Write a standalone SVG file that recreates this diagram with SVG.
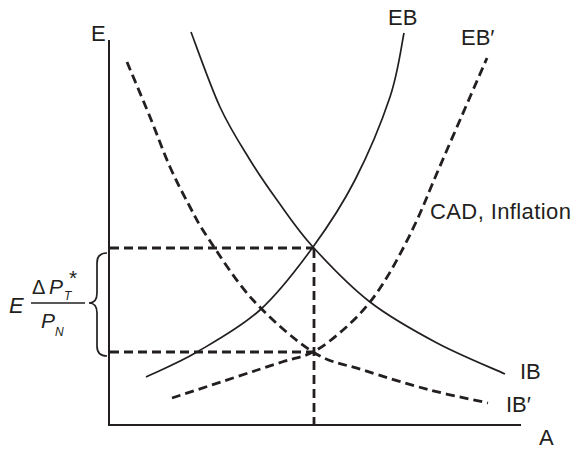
<svg xmlns="http://www.w3.org/2000/svg" width="574" height="451" viewBox="0 0 574 451">
<style>
.ax{stroke:#231f20;stroke-width:2;fill:none}
.sol{stroke:#231f20;stroke-width:1.7;fill:none}
.dash{stroke:#231f20;stroke-width:2.8;fill:none;stroke-dasharray:9 5}
.lbl{font-family:"Liberation Sans",Arial,sans-serif;font-size:22px;fill:#231f20}
.it{font-family:"Liberation Sans",Arial,sans-serif;font-style:italic;fill:#231f20}
</style>
<rect width="574" height="451" fill="#fff"/>
<g id="axes">
<line class="ax" x1="109" y1="40" x2="109" y2="426"/>
<line class="ax" x1="108" y1="425" x2="521" y2="425"/>
<text class="lbl" x="91" y="41">E</text>
<text class="lbl" x="539" y="445">A</text>
</g>
<g id="guides">
<line class="dash" x1="110" y1="248" x2="314" y2="248"/>
<line class="dash" x1="110" y1="352" x2="314" y2="352"/>
<line class="dash" x1="314" y1="249" x2="314" y2="424"/>
</g>
<g id="EB">
<path class="sol" d="M146,377 C154.5,372.8 178,363.2 197,352 C216,340.8 240.7,327.5 260,310 C279.3,292.5 297.2,268.7 313,247 C328.8,225.3 342.2,205 355,180 C367.8,155 381.8,121.5 390,97 C398.2,72.5 401.7,43.7 404,33"/>
<text class="lbl" x="388" y="25">EB</text>
</g>
<g id="EBprime">
<path class="dash" d="M172,398 C182.2,394.7 214.7,384 233,378 C251.3,372 268.7,366.3 282,362 C295.3,357.7 302.8,357.3 313,352 C323.2,346.7 333.5,338.3 343,330 C352.5,321.7 361.7,312.5 370,302 C378.3,291.5 385.2,280.7 393,267 C400.8,253.3 409.7,235.7 417,220 C424.3,204.3 428.2,193.5 437,173 C445.8,152.5 461.7,116.2 470,97 C478.3,77.8 484.2,64.5 487,58"/>
<text class="lbl" x="461" y="45">EB′</text>
<text class="lbl" x="430" y="219" letter-spacing="0.4">CAD, Inflation</text>
</g>
<g id="IB">
<path class="sol" d="M191,32 C195.8,44.5 210.2,85.7 220,107 C229.8,128.3 240.5,144.5 250,160 C259.5,175.5 266.5,185.5 277,200 C287.5,214.5 297.5,230 313,247 C328.5,264 349.3,286 370,302 C390.7,318 414.5,331 437,343 C459.5,355 493.7,368.8 505,374"/>
<text class="lbl" x="520" y="379">IB</text>
</g>
<g id="IBprime">
<path class="dash" d="M127,62 C130.8,71.2 142.8,99.5 150,117 C157.2,134.5 163.3,152 170,167 C176.7,182 183.7,195.2 190,207 C196.3,218.8 197.5,222.5 208,238 C218.5,253.5 235.5,281 253,300 C270.5,319 294.7,340.3 313,352 C331.3,363.7 343.5,363.7 363,370 C382.5,376.3 409.2,384.5 430,390 C450.8,395.5 478.3,400.8 488,403"/>
<text class="lbl" x="506" y="412">IB′</text>
</g>
<g id="gapLabel">
<path class="sol" stroke-width="1.5" d="M107,253 Q97,253 97,263 L97,293 Q97,303 89,303 Q97,303 97,313 L97,346 Q97,356 107,356"/>
<text class="it" x="9" y="313" font-size="22">E</text>
<text font-family="'Liberation Sans',Arial,sans-serif" font-size="20" fill="#231f20" x="32" y="294">Δ</text>
<text class="it" x="49" y="294" font-size="21">P</text>
<text class="it" x="64" y="300" font-size="12">T</text>
<text font-family="'Liberation Sans',Arial,sans-serif" font-size="21" fill="#231f20" x="69" y="285">*</text>
<line x1="31" y1="303" x2="85" y2="303" stroke="#231f20" stroke-width="1.5"/>
<text class="it" x="41" y="328" font-size="21">P</text>
<text class="it" x="55" y="336" font-size="12">N</text>
</g>
</svg>
